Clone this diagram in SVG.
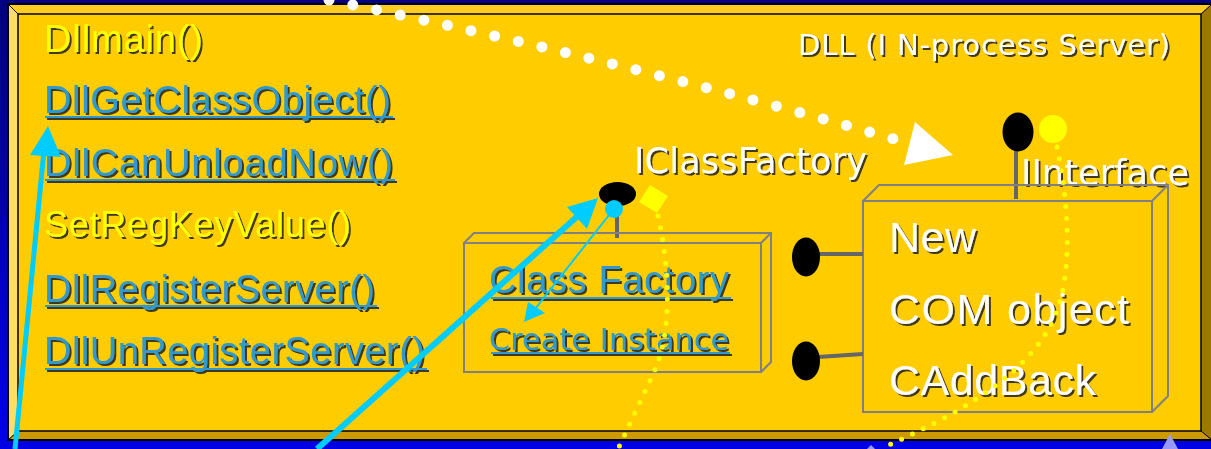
<svg xmlns="http://www.w3.org/2000/svg" width="1211" height="449" viewBox="0 0 1211 449">
<defs>
<linearGradient id="bg" x1="0" y1="0" x2="0" y2="1">
<stop offset="0" stop-color="#000080"/>
<stop offset="1" stop-color="#0000e6"/>
</linearGradient>
<filter id="sh" x="-5%" y="-20%" width="110%" height="150%">
<feDropShadow dx="2" dy="2" stdDeviation="0" flood-color="#1a1a1a" flood-opacity="0.85"/>
</filter>
<style>
.arial{font-family:"Liberation Sans",Arial,sans-serif}
.dv{font-family:"DejaVu Sans",Verdana,sans-serif}
.yel{fill:#ffff00}
.lnk{fill:#3399cc}
.wht{fill:#ffffff}
.ul{stroke:#3399cc;stroke-width:2}
.box{fill:none;stroke:#808080;stroke-width:2}
.stick{stroke:#666666;stroke-width:4}
.cyan{stroke:#00ccff;fill:none}
.cyanf{fill:#00ccff}
.ydots{fill:none;stroke:#ffff00;stroke-width:5;stroke-linecap:round;stroke-dasharray:0 12}
</style>
</defs>
<rect x="0" y="0" width="1211" height="449" fill="url(#bg)"/>
<g id="panel">
<polygon points="8,4 1212,4 1201,14 18,14" fill="#ffcc22"/>
<polygon points="8,4 18,14 18,431 8,440" fill="#ffdd66"/>
<polygon points="1201,14 1212,4 1212,440 1201,431" fill="#9c7800"/>
<polygon points="18,431 1201,431 1212,440 8,440" fill="#cc9900"/>
<rect x="18" y="14" width="1183" height="417" fill="#ffcc00" stroke="#000" stroke-width="1.5"/>
<polygon points="8,4 1212,4 1212,440 8,440" fill="none" stroke="#000" stroke-width="2"/>
<line x1="8" y1="4" x2="18" y2="14" stroke="#000" stroke-width="1"/>
<line x1="8" y1="440" x2="18" y2="431" stroke="#000" stroke-width="1"/>
<line x1="1201" y1="14" x2="1212" y2="4" stroke="#000" stroke-width="1"/>
<line x1="1201" y1="431" x2="1212" y2="440" stroke="#000" stroke-width="1"/>
</g>
<g id="dll-title" filter="url(#sh)">
<text x="798" y="55" class="dv wht" font-size="29" textLength="372" lengthAdjust="spacing">DLL (I N-process Server)</text>
</g>
<g id="fn-dllmain" filter="url(#sh)">
<text x="44" y="52" class="arial yel" font-size="38" textLength="159" lengthAdjust="spacing">Dllmain()</text>
</g>
<g id="fn-getclassobject" filter="url(#sh)">
<text x="44" y="113" class="arial lnk" font-size="38" textLength="347" lengthAdjust="spacing">DllGetClassObject()</text>
<line x1="45" y1="117" x2="393" y2="117" class="ul"/>
</g>
<g id="fn-canunloadnow" filter="url(#sh)">
<text x="44" y="176" class="arial lnk" font-size="38" textLength="349" lengthAdjust="spacing">DllCanUnloadNow()</text>
<line x1="45" y1="180" x2="395" y2="180" class="ul"/>
</g>
<g id="fn-setregkeyvalue" filter="url(#sh)">
<text x="44" y="237" class="arial yel" font-size="36" textLength="307" lengthAdjust="spacing">SetRegKeyValue()</text>
</g>
<g id="fn-registerserver" filter="url(#sh)">
<text x="44" y="302" class="arial lnk" font-size="38" textLength="331" lengthAdjust="spacing">DllRegisterServer()</text>
<line x1="45" y1="306" x2="377" y2="306" class="ul"/>
</g>
<g id="fn-unregisterserver" filter="url(#sh)">
<text x="44" y="364" class="arial lnk" font-size="38" textLength="381" lengthAdjust="spacing">DllUnRegisterServer()</text>
<line x1="45" y1="369" x2="427" y2="369" class="ul"/>
</g>
<g id="class-factory">
<line x1="617" y1="206" x2="617" y2="238" class="stick"/>
<rect x="464" y="243" width="297" height="129" class="box"/>
<polyline points="464,243 474,233 771,233 771,362 761,372" class="box"/>
<line x1="761" y1="243" x2="771" y2="233" class="box"/>
<g filter="url(#sh)">
<text x="489" y="293" class="arial lnk" font-size="38" textLength="240" lengthAdjust="spacing">Class Factory</text>
<line x1="491" y1="298" x2="731" y2="298" class="ul"/>
<text x="489" y="350" class="dv lnk" font-size="30" textLength="240" lengthAdjust="spacing">Create Instance</text>
<line x1="491" y1="353" x2="730" y2="353" class="ul"/>
</g>
</g>
<g id="iclassfactory">
<ellipse cx="617.5" cy="194" rx="18.5" ry="12" fill="#000"/>
<polygon points="650,185 668,196 657,213 639,202" fill="#ffff00"/>
<text x="634" y="173" class="dv wht" font-size="35" textLength="233" lengthAdjust="spacing" filter="url(#sh)">IClassFactory</text>
</g>
<g id="com-object">
<line x1="1016" y1="148" x2="1016" y2="199" class="stick"/>
<ellipse cx="1018" cy="132" rx="15.5" ry="19.5" fill="#000"/>
<circle cx="1053" cy="129" r="14" fill="#ffff00"/>
<text x="1021" y="185" class="dv wht" font-size="35" textLength="168" lengthAdjust="spacing" filter="url(#sh)">IInterface</text>
<rect x="863" y="201" width="289" height="211" class="box"/>
<polyline points="863,201 879,185 1168,185 1168,396 1152,412" class="box"/>
<line x1="1152" y1="201" x2="1168" y2="185" class="box"/>
<line x1="818" y1="254" x2="863" y2="254" class="stick"/>
<line x1="818" y1="357" x2="863" y2="354" class="stick"/>
<ellipse cx="806" cy="257" rx="14" ry="19.5" fill="#000"/>
<ellipse cx="806" cy="361" rx="14" ry="19.5" fill="#000"/>
<g filter="url(#sh)">
<text x="889" y="252" class="arial wht" font-size="43" textLength="87" lengthAdjust="spacing">New</text>
<text x="889" y="324" class="arial wht" font-size="43" textLength="240" lengthAdjust="spacing">COM object</text>
<text x="889" y="395" class="arial wht" font-size="43" textLength="207" lengthAdjust="spacing">CAddBack</text>
</g>
</g>
<g id="connectors">
<path d="M658,216 C670,270 672,330 655,370 L618,449" class="ydots"/>
<path d="M1057,147 C1072,220 1072,290 1048,330 C1015,385 945,420 880,449" class="ydots"/>
<path d="M329,0 Q620,60 894,139" fill="none" stroke="#fff" stroke-width="11" stroke-linecap="round" stroke-dasharray="0 24.2"/>
<polygon points="915,122 953,155 904,165" fill="#fff"/>
<line x1="15" y1="449" x2="44" y2="150" class="cyan" stroke-width="5"/>
<polygon points="48,126 30,155 61,157" class="cyanf"/>
<line x1="317" y1="449" x2="580" y2="214" class="cyan" stroke-width="6"/>
<polygon points="598,198 567,207 587,229" class="cyanf"/>
<line x1="613" y1="210" x2="535" y2="309" class="cyan" stroke-width="2"/>
<polygon points="524,322 528,302 545,313" class="cyanf"/>
<circle cx="614" cy="209" r="9" class="cyanf"/>
<polygon points="1170,434 1162,449 1178,449" fill="#9999ff"/>
<polygon points="871,445 867,449 875,449" fill="#9999ff"/>
</g>
</svg>
